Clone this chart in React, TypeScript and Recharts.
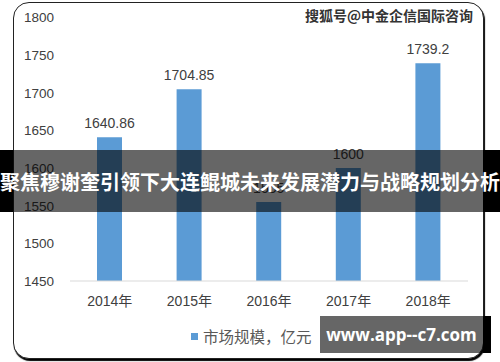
import React from 'react';
import { BarChart, Bar, XAxis, YAxis, LabelList } from 'recharts';

const categories = ['2014年', '2015年', '2016年', '2017年', '2018年'];
const marketSize = [1640.86, 1704.85, 1555, 1600, 1739.2];
const yTicks = [1450, 1500, 1550, 1600, 1650, 1700, 1750, 1800];
const seriesName = '市场规模，亿元';
const bannerText = '聚焦穆谢奎引领下大连鲲城未来发展潜力与战略规划分析';
const watermarkText = '搜狐号@中金企信国际咨询';
const siteText = 'www.app--c7.com';

const data = categories.map((c, i) => ({ year: c, value: marketSize[i] }));

const FONT = '"Liberation Sans", "Noto Sans CJK SC", sans-serif';
const CJK = '"Noto Sans CJK SC", "Liberation Sans", sans-serif';
const BLUE = '#5B9BD5';

export default function App() {
  return (
    <div style={{ position: 'absolute', left: 0, top: 0, width: 500, height: 362, background: '#fff', overflow: 'hidden', fontFamily: FONT }}>
      {/* card */}
      <div
        style={{
          position: 'absolute', left: 13, top: 2, width: 471, height: 357,
          boxSizing: 'border-box', border: '1.5px solid #222', borderRadius: 16,
          boxShadow: '1px 2px 1px #000', background: '#fff',
        }}
      />
      <div style={{ position: 'absolute', left: 0, top: 0 }}>
        <BarChart width={500} height={362} data={data} margin={{ top: 17.5, right: 32, bottom: 51, left: 0 }}>
          <XAxis
            dataKey="year"
            axisLine={{ stroke: '#d9d9d9', strokeWidth: 1 }}
            tickLine={false}
            tickMargin={9}
            height={30}
            tick={{ fill: '#404040', fontSize: 14, fontFamily: FONT }}
            interval={0}
          />
          <YAxis
            domain={[1450, 1800]}
            ticks={yTicks}
            axisLine={false}
            tickLine={false}
            width={70}
            tickMargin={10}
            tick={{ fill: '#404040', fontSize: 13.5, fontFamily: FONT }}
            interval={0}
            allowDataOverflow
          />
          <Bar dataKey="value" name={seriesName} fill={BLUE} barSize={25} isAnimationActive={false}>
            <LabelList dataKey="value" position="top" offset={9} fill="#404040" fontSize={14} fontFamily={FONT} />
          </Bar>
        </BarChart>
      </div>
      {/* legend */}
      <div style={{ position: 'absolute', left: 191, top: 326, display: 'flex', alignItems: 'center', whiteSpace: 'nowrap' }}>
        <div style={{ width: 7, height: 7, background: BLUE, marginRight: 5 }} />
        <span style={{ fontFamily: CJK, fontSize: 15.5, color: '#595959', lineHeight: '20px' }}>{seriesName}</span>
      </div>
      {/* watermark */}
      <div style={{ position: 'absolute', left: 296, top: 5, width: 177, textAlign: 'right', fontFamily: CJK, fontSize: 14, fontWeight: 700, color: '#333', whiteSpace: 'nowrap', lineHeight: '20px', textShadow: '0 0 1px #fff' }}>
        {watermarkText}
      </div>
      {/* banner */}
      <div style={{ position: 'absolute', left: 0, top: 150, width: 13, height: 62, background: '#000' }} />
      <div style={{ position: 'absolute', left: 483, top: 150, width: 17, height: 62, background: '#000' }} />
      <div style={{ position: 'absolute', left: 13, top: 150, width: 470, height: 62, background: 'rgba(0,0,0,0.6)' }} />
      <div style={{ position: 'absolute', left: -20, top: 150, width: 540, height: 62, display: 'flex', alignItems: 'center', justifyContent: 'center', fontFamily: CJK, fontSize: 20, fontWeight: 700, color: '#fff', whiteSpace: 'nowrap' }}>
        {bannerText}
      </div>
      {/* site box */}
      <div style={{ position: 'absolute', left: 483, top: 316, width: 8, height: 37, background: '#000' }} />
      <div style={{ position: 'absolute', left: 320, top: 316, width: 163, height: 37, background: 'rgba(0,0,0,0.6)', display: 'flex', alignItems: 'center', justifyContent: 'center', fontFamily: '"Open Sans", sans-serif', fontWeight: 700, fontSize: 17, color: '#fff', whiteSpace: 'nowrap' }}>
        {siteText}
      </div>
    </div>
  );
}
